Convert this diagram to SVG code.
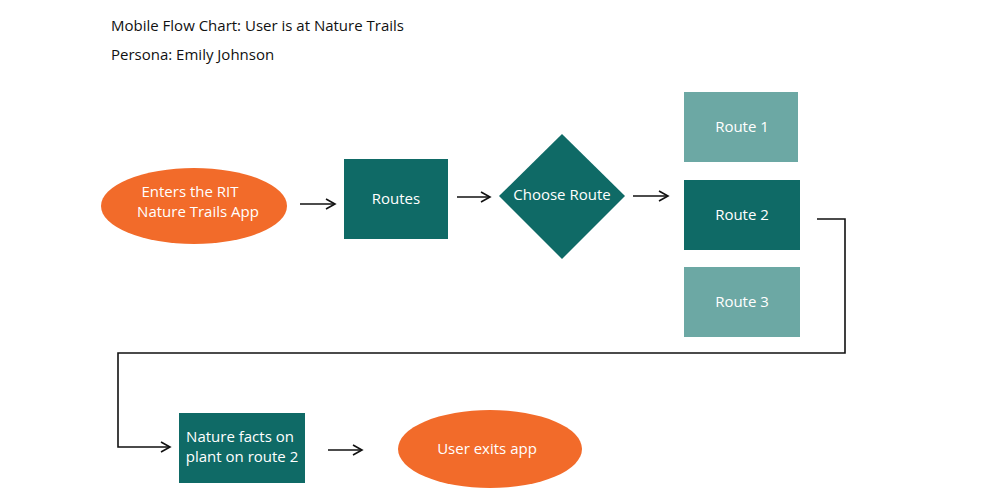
<svg xmlns="http://www.w3.org/2000/svg" width="1000" height="495" viewBox="0 0 1000 495">
<style>
text{font-family:"Open Sans","Liberation Sans",sans-serif;font-size:15px}
.t{fill:#fff;text-anchor:middle}
.h{fill:#111}
.dk{fill:#0f6a66}.lt{fill:#6ca8a4}.or{fill:#f26b2a}
.c{fill:none;stroke:#111;stroke-width:1.6}
</style>
<defs><marker id="a" markerWidth="12" markerHeight="12" refX="10" refY="6" orient="auto" markerUnits="userSpaceOnUse"><path d="M1,1 L10,6 L1,11" fill="none" stroke="#111" stroke-width="1.6"/></marker></defs>
<text class="h" x="111" y="31">Mobile Flow Chart:  User is at Nature Trails</text>
<text class="h" x="111" y="60">Persona: Emily Johnson</text>
<g id="start"><ellipse class="or" cx="194" cy="206" rx="93" ry="38"/><text class="t" x="190" y="197">Enters the RIT</text><text class="t" x="198" y="217">Nature Trails App</text></g>
<g id="routes"><rect class="dk" x="344" y="159" width="104" height="80"/><text class="t" x="396" y="204">Routes</text></g>
<g id="choose"><polygon class="dk" points="562,134 625,196 562,259 499,196"/><text class="t" x="562" y="200">Choose Route</text></g>
<g id="route1"><rect class="lt" x="684" y="92" width="114" height="70"/><text class="t" x="742" y="132">Route 1</text></g>
<g id="route2"><rect class="dk" x="684" y="180" width="116" height="70"/><text class="t" x="742" y="220">Route 2</text></g>
<g id="route3"><rect class="lt" x="684" y="267" width="116" height="70"/><text class="t" x="742" y="307">Route 3</text></g>
<g id="facts"><rect class="dk" x="179" y="413" width="126" height="70"/><text class="t" x="240" y="442">Nature facts on</text><text class="t" x="242" y="462">plant on route 2</text></g>
<g id="exit"><ellipse class="or" cx="490" cy="449" rx="92" ry="39"/><text class="t" x="487" y="454">User exits app</text></g>
<g id="connectors">
<path class="c" d="M300,204 H335" marker-end="url(#a)"/>
<path class="c" d="M457,197 H490" marker-end="url(#a)"/>
<path class="c" d="M633,196 H668" marker-end="url(#a)"/>
<path class="c" d="M817,219 H845 V353 H118 V447 H170" marker-end="url(#a)"/>
<path class="c" d="M328,450 H362" marker-end="url(#a)"/>
</g>
</svg>
